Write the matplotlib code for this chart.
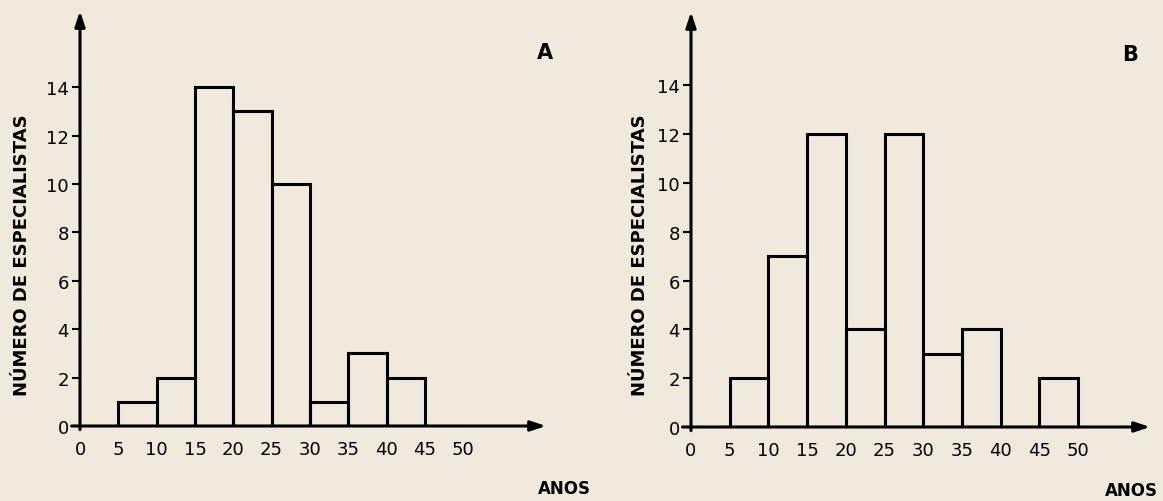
import matplotlib.pyplot as plt

# Classes de idade (anos) e número de especialistas em cada painel
edges = [5, 10, 15, 20, 25, 30, 35, 40, 45]
counts_a = [1, 2, 14, 13, 10, 1, 3, 2, 0]
counts_b = [2, 7, 12, 4, 12, 3, 4, 0, 2]
x_ticks = [0, 5, 10, 15, 20, 25, 30, 35, 40, 45, 50]
y_ticks = [0, 2, 4, 6, 8, 10, 12, 14]

plt.rcParams['font.family'] = ['DejaVu Sans']
bg = '#efeadc'
W, H = 1163, 502

fig = plt.figure(figsize=(W / 100, H / 100), dpi=100, facecolor=bg)


def painel(left, y0, right, top, xmax, ymax, counts, letra, letra_xy, anos_xy, ylab_x):
    ax = fig.add_axes([left / W, 1 - y0 / H, (right - left) / W, (y0 - top) / H])
    ax.set_facecolor('none')
    ax.set_xlim(0, xmax)
    ax.set_ylim(0, ymax)
    for s in ax.spines.values():
        s.set_visible(False)
    ax.bar(edges, counts, width=5, align='edge', fill=False,
           edgecolor='black', linewidth=2.2)
    # eixos com setas
    ax.annotate('', xy=(xmax, 0), xytext=(-1.1, 0),
                arrowprops=dict(arrowstyle='-|>,head_length=0.9,head_width=0.3',
                                lw=2.2, color='black', shrinkA=0, shrinkB=0),
                annotation_clip=False)
    ax.annotate('', xy=(0, ymax), xytext=(0, -0.15),
                arrowprops=dict(arrowstyle='-|>,head_length=0.9,head_width=0.3',
                                lw=2.2, color='black', shrinkA=0, shrinkB=0),
                annotation_clip=False)
    ax.set_xticks(x_ticks)
    ax.set_yticks(y_ticks)
    ax.tick_params(axis='x', length=0, pad=10, labelsize=13)
    ax.tick_params(axis='y', length=6, width=1.5, pad=2, labelsize=13)
    fig.text(ylab_x / W, 1 - 255 / H, 'NÚMERO DE ESPECIALISTAS', rotation=90,
             ha='center', va='center', fontsize=13, fontweight='bold')
    fig.text(letra_xy[0] / W, 1 - letra_xy[1] / H, letra, ha='center', va='center',
             fontsize=15, fontweight='bold')
    fig.text(anos_xy[0] / W, 1 - anos_xy[1] / H, 'ANOS', ha='right', va='center',
             fontsize=12, fontweight='bold')
    return ax


painel(80, 427, 546, 12, 60.8, 17.15, counts_a, 'A', (545, 53), (591, 489), 22)
painel(691, 428, 1150, 13, 59.3, 17.0, counts_b, 'B', (1130, 55), (1158, 491), 640)

fig.savefig('out.png', dpi=100, facecolor=bg)
